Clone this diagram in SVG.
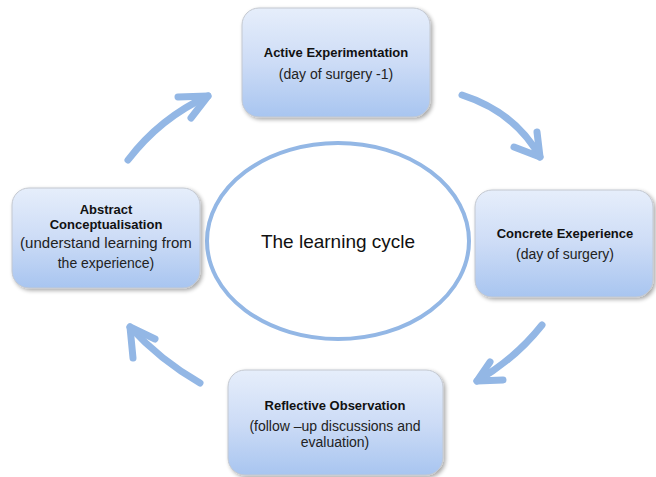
<svg xmlns="http://www.w3.org/2000/svg" width="656" height="477" viewBox="0 0 656 477">
  <defs>
    <linearGradient id="boxFill" x1="0" y1="0" x2="0" y2="1">
      <stop offset="0" stop-color="#e6eefb"/>
      <stop offset="0.5" stop-color="#cddcf6"/>
      <stop offset="1" stop-color="#a8c5f0"/>
    </linearGradient>
    <filter id="shadow" x="-10%" y="-10%" width="125%" height="130%">
      <feGaussianBlur in="SourceAlpha" stdDeviation="2"/>
      <feOffset dx="1.5" dy="2" result="b"/>
      <feComponentTransfer><feFuncA type="linear" slope="0.35"/></feComponentTransfer>
      <feMerge><feMergeNode/><feMergeNode in="SourceGraphic"/></feMerge>
    </filter>
  </defs>
  <style>
    .box { fill: url(#boxFill); stroke: #c3c8d0; stroke-width: 1; filter: url(#shadow); }
    .title { font-family: "Liberation Sans", Arial, sans-serif; font-size: 13px; font-weight: bold; fill: #111; text-anchor: middle; }
    .sub { font-family: "Liberation Sans", Arial, sans-serif; font-size: 14px; fill: #222; text-anchor: middle; }
    .arrow { fill: none; stroke: #93b7e5; stroke-width: 7; stroke-linecap: round; stroke-linejoin: round; }
    .cycle { fill: #ffffff; stroke: #93b7e5; stroke-width: 4; }
    .center { font-family: "Liberation Sans", Arial, sans-serif; font-size: 19px; fill: #111; text-anchor: middle; }
  </style>
  <rect width="656" height="477" fill="#ffffff"/>

  <g id="cycle">
    <ellipse class="cycle" cx="338" cy="241" rx="131" ry="98"/>
    <text class="center" x="338" y="248">The learning cycle</text>
  </g>

  <g id="active-experimentation">
    <rect class="box" x="242" y="8" width="188" height="109" rx="17"/>
    <text class="title" x="336" y="57">Active Experimentation</text>
    <text class="sub" x="336" y="79">(day of surgery -1)</text>
  </g>

  <g id="concrete-experience">
    <rect class="box" x="475" y="190" width="178" height="107" rx="17"/>
    <text class="title" x="565" y="238">Concrete Exeperience</text>
    <text class="sub" x="565" y="259">(day of surgery)</text>
  </g>

  <g id="reflective-observation">
    <rect class="box" x="228" y="370" width="215" height="105" rx="17"/>
    <text class="title" x="335" y="410">Reflective Observation</text>
    <text class="sub" x="335" y="431">(follow –up discussions and</text>
    <text class="sub" x="335" y="447">evaluation)</text>
  </g>

  <g id="abstract-conceptualisation">
    <rect class="box" x="12" y="188" width="188" height="100" rx="17"/>
    <text class="title" x="106" y="214">Abstract</text>
    <text class="title" x="106" y="229">Conceptualisation</text>
    <text class="sub" x="106" y="248" style="font-size:15px">(understand learning from</text>
    <text class="sub" x="106" y="268">the experience)</text>
  </g>

  <g id="connectors">
    <!-- abstract -> active -->
    <path class="arrow" d="M128 160 Q160 118 208 96"/>
    <polyline class="arrow" points="178,97 208,96 191,118"/>
    <!-- active -> concrete -->
    <path class="arrow" d="M462 95 Q515 112 540 157"/>
    <polyline class="arrow" points="514,147 540,157 537,132"/>
    <!-- concrete -> reflective -->
    <path class="arrow" d="M542 325 Q516 358 477 381"/>
    <polyline class="arrow" points="490,362 477,381 503,380"/>
    <!-- reflective -> abstract -->
    <path class="arrow" d="M200 383 Q160 360 130 327"/>
    <polyline class="arrow" points="155,339 130,327 133,358"/>
  </g>
</svg>
